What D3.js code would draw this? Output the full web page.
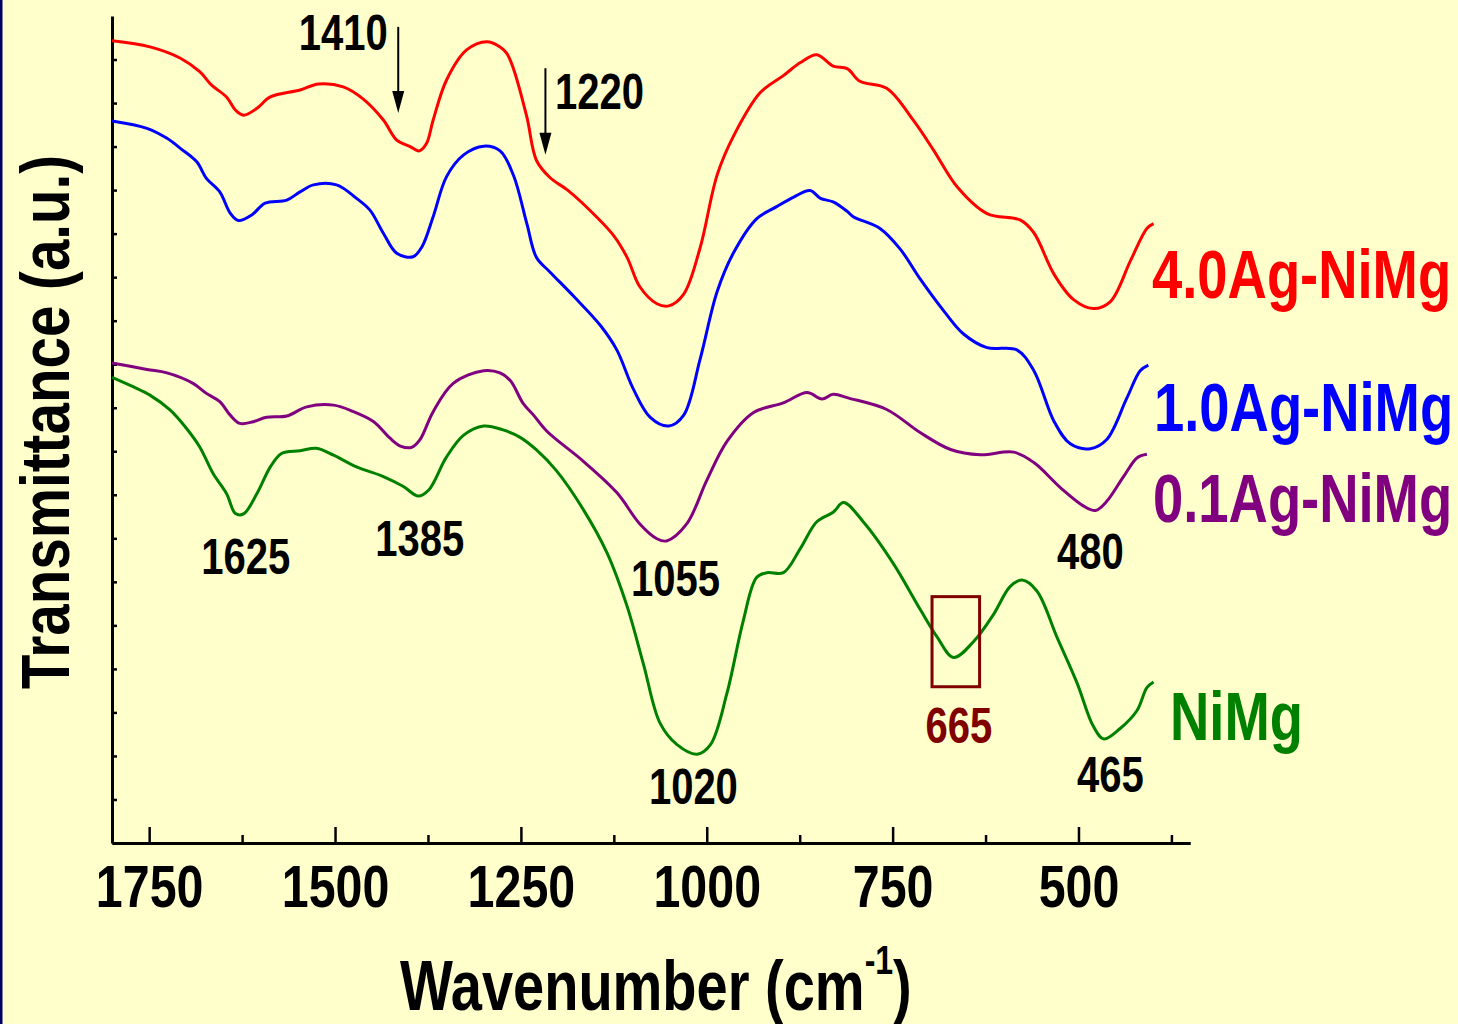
<!DOCTYPE html>
<html>
<head>
<meta charset="utf-8">
<script src="https://cdn.jsdelivr.net/npm/d3@7"></script>
<style>
  body { margin: 0; background: #FFFFCC; }
  svg text { font-family: "Liberation Sans", Arial, sans-serif; font-weight: bold; }
</style>
</head>
<body>
<svg id="chart" width="1458" height="1024"></svg>
<script>
// FTIR spectra, [wavenumber (cm-1), transmittance (a.u.)]
const ag40 = [[1800,18.43],[1749,18.29],[1708,18.03],[1682,17.72],[1666,17.41],[1646,17.14],[1634,16.84],[1623,16.72],
  [1605,16.88],[1587,17.14],[1547,17.30],[1522,17.44],[1489,17.37],[1462,17.09],[1435,16.61],[1417,16.15],[1399,16.00],
  [1387,15.90],[1377,16.07],[1368,16.61],[1350,17.53],[1323,18.22],[1296,18.41],[1278,18.29],[1269,18.14],[1260,17.79],
  [1242,16.68],[1229,15.68],[1211,15.29],[1188,15.01],[1166,14.68],[1125,13.95],[1107,13.45],[1090,12.78],[1067,12.39],
  [1051,12.34],[1031,12.61],[1009,13.67],[986,15.35],[964,16.24],[928,17.24],[897,17.63],[874,17.93],[852,18.11],
  [830,17.85],[811,17.79],[794,17.50],[758,17.34],[722,16.60],[695,15.92],[663,15.07],[623,14.46],[578,14.31],[560,14.02],
  [533,13.07],[507,12.49],[480,12.28],[457,12.44],[430,13.38],[408,14.12],[399,14.23]];

const ag10 = [[1800,16.59],[1753,16.42],[1726,16.19],[1708,15.96],[1686,15.65],[1673,15.27],[1655,14.96],[1641,14.47],
  [1630,14.30],[1612,14.43],[1594,14.70],[1565,14.77],[1547,14.96],[1529,15.12],[1498,15.12],[1471,14.81],[1453,14.54],
  [1435,14.01],[1417,13.55],[1395,13.47],[1383,13.70],[1368,14.39],[1350,15.31],[1327,15.81],[1300,16.01],[1278,15.90],
  [1260,15.34],[1242,14.23],[1229,13.45],[1211,13.12],[1179,12.56],[1143,11.89],[1121,11.33],[1099,10.44],[1076,9.78],
  [1051,9.58],[1031,9.83],[1009,11.11],[986,12.67],[964,13.56],[933,14.34],[906,14.62],[883,14.84],[861,14.99],
  [847,14.81],[830,14.73],[811,14.51],[803,14.39],[767,14.12],[740,13.65],[713,12.96],[681,12.22],[655,11.70],
  [623,11.38],[583,11.33],[560,10.85],[533,9.69],[511,9.17],[484,9.06],[462,9.27],[435,10.22],[417,10.85],[406,10.98]];

const ag01 = [[1800,11.03],[1753,10.88],[1726,10.80],[1691,10.56],[1673,10.33],[1655,10.14],[1641,9.83],[1628,9.64],
  [1610,9.68],[1592,9.78],[1565,9.81],[1538,10.02],[1502,10.06],[1475,9.91],[1448,9.68],[1426,9.30],[1412,9.12],
  [1397,9.09],[1386,9.26],[1368,9.91],[1341,10.56],[1300,10.85],[1278,10.80],[1264,10.62],[1247,10.10],
  [1233,9.83],[1215,9.46],[1166,8.77],[1121,8.05],[1090,7.33],[1067,6.99],[1054,6.94],[1027,7.33],[1000,8.33],
  [973,9.22],[937,9.89],[897,10.11],[865,10.35],[845,10.20],[830,10.31],[809,10.22],[758,9.96],[713,9.43],[672,9.04],
  [632,8.92],[587,8.98],[560,8.74],[524,8.16],[493,7.74],[477,7.64],[462,7.85],[439,8.43],[421,8.85],[408,8.93]];

const nimg = [[1800,10.70],[1771,10.48],[1749,10.29],[1722,9.95],[1700,9.53],[1682,9.10],[1664,8.49],[1646,8.03],
  [1634,7.57],[1623,7.56],[1605,8.03],[1587,8.64],[1572,8.95],[1547,9.01],[1525,9.07],[1502,8.91],[1471,8.64],
  [1435,8.42],[1408,8.19],[1388,7.97],[1374,8.11],[1350,8.87],[1327,9.37],[1300,9.58],[1274,9.49],[1251,9.32],
  [1229,9.03],[1202,8.55],[1166,7.66],[1134,6.66],[1107,5.43],[1085,4.10],[1063,2.76],[1040,2.26],[1013,2.04],
  [995,2.26],[973,3.43],[951,5.10],[933,6.10],[919,6.21],[897,6.21],[874,6.77],[852,7.38],[830,7.60],[816,7.82],
  [789,7.37],[749,6.42],[713,5.37],[690,4.73],[668,4.26],[641,4.63],[614,5.26],[592,5.89],[576,6.04],[556,5.79],
  [529,4.73],[502,3.68],[480,2.68],[466,2.39],[444,2.63],[421,3.05],[408,3.57],[399,3.70]];

const seriesNames = ["4.0Ag-NiMg", "1.0Ag-NiMg", "0.1Ag-NiMg", "NiMg"];
const seriesColors = ["#FF0000", "#0000FF", "#800080", "#008000"];
const seriesData = [ag40, ag10, ag01, nimg];

const majorTicks = [1750, 1500, 1250, 1000, 750, 500];
const minorTicks = [1625, 1375, 1125, 875, 625, 375];

// peak annotations: label, wavenumber, transmittance
const peakLabels = [["1625",1620,6.18],["1385",1386,6.59],["1055",1042,5.67],["1020",1018,0.90],
  ["480",484,6.29],["465",457,1.17]];
const arrows = [["1410",1415,18.75,16.77],["1220",1217,17.80,15.81]];
const boxedPeak = ["665", 697, 633, 5.66, 3.59];

// narrow bold text is faked by squeezing Liberation Sans horizontally
const SQUEEZE = 0.8;

const svg = d3.select("#chart");

svg.append("rect").attr("width", 1458).attr("height", 1024).attr("fill", "#FFFFCC");
svg.append("rect").attr("x", 0).attr("y", 0).attr("width", 2.5).attr("height", 1024).attr("fill", "#000066");

const x = d3.scaleLinear().domain([1800, 350]).range([112, 1190]);
const y = d3.scaleLinear().domain([0, 19]).range([843, 16]);

function label(px, py, str, size, color, anchor)
{
  return svg.append("text")
    .attr("transform", "translate(" + px + "," + py + ") scale(" + SQUEEZE + ",1)")
    .attr("text-anchor", anchor || "start")
    .attr("font-size", size)
    .attr("fill", color || "#000")
    .text(str);
}

// axes, ticks pointing inward
const xAxis = svg.append("g").attr("transform", "translate(0,843)")
  .call(d3.axisBottom(x).tickValues(majorTicks).tickSize(-16).tickSizeOuter(0).tickPadding(22).tickFormat(d3.format("d")));
svg.append("g").attr("transform", "translate(0,843)")
  .call(d3.axisBottom(x).tickValues(minorTicks).tickSize(-8).tickSizeOuter(0).tickFormat(""));
svg.append("g").attr("transform", "translate(112,0)")
  .call(d3.axisLeft(y).tickValues(d3.range(1, 19)).tickSize(-5).tickSizeOuter(0).tickFormat(""));

svg.selectAll(".domain").attr("stroke", "#000").attr("stroke-width", 3);
svg.selectAll(".tick line").attr("stroke", "#000").attr("stroke-width", 2.5);
xAxis.selectAll(".tick text")
  .attr("font-size", 59).attr("fill", "#000").attr("dy", "0.71em")
  .attr("transform", "scale(0.82,1)");

// spectra
const line = d3.line()
  .x(function (d) { return x(d[0]); })
  .y(function (d) { return y(d[1]); })
  .curve(d3.curveCatmullRom.alpha(0.5));

seriesData.forEach(function (data, i)
{
  svg.append("path")
    .attr("d", line(data))
    .attr("fill", "none")
    .attr("stroke", seriesColors[i])
    .attr("stroke-width", 3)
    .attr("stroke-linejoin", "round");
});

// series names on the right
const namePos = [[1152, 298], [1154, 431], [1153, 522], [1170, 740]];
seriesNames.forEach(function (name, i)
{
  label(namePos[i][0], namePos[i][1], name, 68, seriesColors[i]);
});

// peak labels
peakLabels.forEach(function (p)
{
  label(x(p[1]), y(p[2]), p[0], 50, "#000", "middle");
});

// arrows
arrows.forEach(function (a)
{
  svg.append("line")
    .attr("x1", x(a[1])).attr("x2", x(a[1]))
    .attr("y1", y(a[2])).attr("y2", y(a[3]) - 20)
    .attr("stroke", "#000").attr("stroke-width", 2);
  svg.append("path")
    .attr("d", "M" + (x(a[1]) - 6) + "," + (y(a[3]) - 22) + " L" + (x(a[1]) + 6) + "," + (y(a[3]) - 22) + " L" + x(a[1]) + "," + y(a[3]) + " Z")
    .attr("fill", "#000");
});
label(x(1429), y(18.22), arrows[0][0], 50, "#000", "end");
label(x(1204), y(16.86), arrows[1][0], 50, "#000", "start");

// boxed peak
svg.append("rect")
  .attr("x", x(boxedPeak[1])).attr("y", y(boxedPeak[3]))
  .attr("width", x(boxedPeak[2]) - x(boxedPeak[1]))
  .attr("height", y(boxedPeak[4]) - y(boxedPeak[3]))
  .attr("fill", "none").attr("stroke", "#800000").attr("stroke-width", 3);
label(x(661), y(2.30), boxedPeak[0], 50, "#800000", "middle");

// axis titles
const xt = label(400, 1010, "", 70, "#000", "start");
xt.append("tspan").text("Wavenumber (cm");
xt.append("tspan").attr("font-size", 40).attr("dy", -36).text("-1");
xt.append("tspan").attr("dy", 36).text(")");

svg.append("text")
  .attr("transform", "translate(69,422) rotate(-90) scale(0.82,1)")
  .attr("text-anchor", "middle").attr("font-size", 69).attr("fill", "#000")
  .text("Transmittance (a.u.)");
</script>
</body>
</html>
